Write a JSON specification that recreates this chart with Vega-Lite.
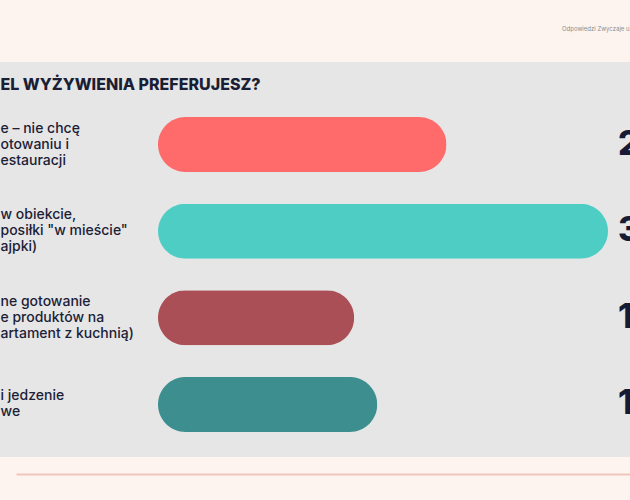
{
  "$schema": "https://vega.github.io/schema/vega-lite/v6.json",
  "width": 630,
  "height": 395,
  "autosize": {"type": "none"},
  "padding": {"left": 0, "top": 62, "right": 0, "bottom": 43},
  "background": "#fdf4ef",
  "config": {"view": {"fill": "#e6e6e6", "stroke": null}, "font": "Inter"},
  "title": {"text": "Odpowiedzi Zwyczaje u", "anchor": "start", "frame": "group", "dx": 562, "offset": 30, "fontSize": 6, "fontWeight": "normal", "color": "#8c8c8c", "font": "Inter"},
  "data": {"values": [
    {"option": "e – nie chcę|otowaniu i|estauracji", "value": 25},
    {"option": "w obiekcie,|posiłki \"w mieście\"|ajpki)", "value": 39},
    {"option": "ne gotowanie|e produktów na|artament z kuchnią)", "value": 17},
    {"option": "i jedzenie|we", "value": 19}
  ]},
  "encoding": {
    "y": {
      "field": "option", "type": "nominal", "sort": null,
      "scale": {"range": [55, 370], "paddingInner": 0.365, "paddingOuter": 0},
      "axis": {
        "domain": false, "ticks": false, "tickSize": 0, "grid": false,
        "labelPadding": 0, "labelAlign": "left", "labelBaseline": "middle",
        "labelExpr": "split(datum.label, '|')",
        "labelOffset": {"condition": {"test": "length(split(datum.label, '|')) == 2", "value": -8}, "value": -16},
        "labelFont": "Inter", "labelFontSize": 14, "labelFontWeight": 500, "labelColor": "#1c2136",
        "labelLineHeight": 16, "labelLimit": 400, "labelOverlap": false, "labelBound": false,
        "title": "EL WYŻYWIENIA PREFERUJESZ?", "titleAngle": 0, "titleX": 0, "titleY": 22,
        "titleAlign": "left", "titleBaseline": "middle", "titleFont": "Inter",
        "titleFontSize": 16, "titleFontWeight": 800, "titleColor": "#1a1f35"
      }
    }
  },
  "layer": [
    {
      "mark": {"type": "bar", "cornerRadius": 27.5},
      "encoding": {
        "x": {
          "field": "value", "type": "quantitative",
          "scale": {"domain": [-12.307, 40.907], "range": [16, 630], "zero": false, "nice": false},
          "axis": {"orient": "bottom", "offset": 17, "domainColor": "#efc6bb", "domainWidth": 2, "labels": false, "ticks": false, "grid": false, "title": null}
        },
        "color": {
          "field": "option", "type": "nominal", "legend": null,
          "scale": {
            "domain": ["e – nie chcę|otowaniu i|estauracji", "w obiekcie,|posiłki \"w mieście\"|ajpki)", "ne gotowanie|e produktów na|artament z kuchnią)", "i jedzenie|we"],
            "range": ["#ff6b6b", "#4ecdc4", "#aa4f55", "#3d8f8f"]
          }
        }
      }
    },
    {
      "mark": {"type": "text", "align": "left", "baseline": "middle", "dx": -12, "font": "Inter", "fontSize": 34, "fontWeight": 800, "color": "#151a35"},
      "encoding": {
        "x": {"value": "width"},
        "text": {"field": "value", "type": "quantitative"}
      }
    }
  ]
}
